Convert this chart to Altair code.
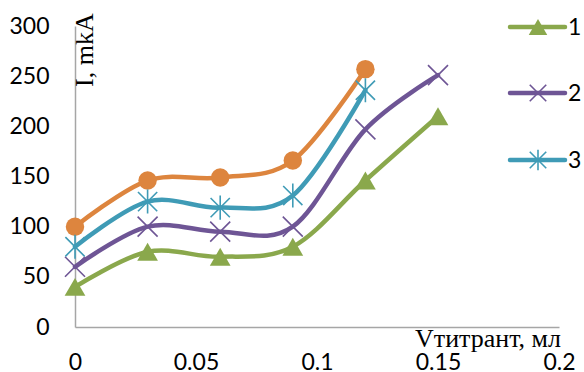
import altair as alt
import pandas as pd

# Titrant volume (ml) and measured current (mkA) for each curve
volume = [0, 0.03, 0.06, 0.09, 0.12, 0.15]
current_1 = [40, 75, 70, 80, 146, 210]
current_2 = [60, 100, 95, 100, 197, 251]
current_3 = [80, 125, 119, 131, 236]
current_4 = [100, 146, 149, 166, 257]

series_names = ["1", "2", "3", "4"]
series_colors = ["#8AA84C", "#6E5595", "#3F9BB6", "#DD853E"]
legend_names = ["1", "2", "3"]

x_ticks = [0, 0.05, 0.1, 0.15, 0.2]
y_ticks = [0, 50, 100, 150, 200, 250, 300]

x_title = "Vтитрант, мл"
y_title = "I, mkA"

X_MARK = "M-1,-1L1,1M-1,1L1,-1"
STAR_MARK = "M-1,-1L1,1M-1,1L1,-1M0,-1.25L0,1.25"
series_shapes = ["triangle-up", X_MARK, STAR_MARK, "circle"]
series_sizes = [430, 340, 340, 330]
series_widths = [4.5, 4.5, 4.5, 4]

rows = []
for name, values in zip(series_names, [current_1, current_2, current_3, current_4]):
    for v, c in zip(volume, values):
        rows.append({"series": name, "volume": v, "current": c})
df = pd.DataFrame(rows)

TICK_FONT = "Lato"
TITLE_FONT = "Liberation Serif"
AXIS_GREY = "#A6A6A6"

x_enc = alt.X(
    "volume:Q",
    scale=alt.Scale(domain=[0, 0.2], nice=False, zero=False),
    axis=alt.Axis(values=x_ticks, format="~g", title=None, grid=False, ticks=False,
                  domainColor=AXIS_GREY, domainWidth=1.5, labelFont=TICK_FONT,
                  labelFontSize=23, labelColor="black", labelPadding=24,
                  labelFlush=False, labelOverlap=False),
)
y_enc = alt.Y(
    "current:Q",
    scale=alt.Scale(domain=[0, 300], nice=False),
    axis=alt.Axis(values=y_ticks, title=None, grid=False, ticks=False,
                  domainColor=AXIS_GREY, domainWidth=1.5, labelFont=TICK_FONT,
                  labelFontSize=23, labelColor="black", labelPadding=26),
)
color_enc = alt.Color("series:N", scale=alt.Scale(domain=series_names, range=series_colors), legend=None)
shape_enc = alt.Shape("series:N", scale=alt.Scale(domain=series_names, range=series_shapes), legend=None)
size_enc = alt.Size("series:N", scale=alt.Scale(domain=series_names, range=series_sizes), legend=None)
width_enc = alt.StrokeWidth("series:N", scale=alt.Scale(domain=series_names, range=series_widths), legend=None)

base = alt.Chart(df)

lines = base.mark_line(interpolate="cardinal", strokeCap="round").encode(
    x=x_enc, y=y_enc, color=color_enc, strokeWidth=width_enc, detail="series:N"
)
filled_pts = base.transform_filter(
    alt.FieldOneOfPredicate(field="series", oneOf=["1", "4"])
).mark_point(filled=True, opacity=1).encode(
    x=x_enc, y=y_enc, color=color_enc, shape=shape_enc, size=size_enc
)
stroked_pts = base.transform_filter(
    alt.FieldOneOfPredicate(field="series", oneOf=["2", "3"])
).mark_point(filled=False, opacity=1, strokeWidth=1.6).encode(
    x=x_enc, y=y_enc, color=color_enc, shape=shape_enc, size=size_enc
)

layers = [lines, filled_pts, stroked_pts]

# axis titles placed inside the chart corners
layers.append(
    alt.Chart(pd.DataFrame({"t": [x_title]})).mark_text(
        font=TITLE_FONT, fontSize=26, align="left", baseline="alphabetic", color="black"
    ).encode(x=alt.value(340), y=alt.value(321), text="t:N")
)
layers.append(
    alt.Chart(pd.DataFrame({"t": [y_title]})).mark_text(
        font=TITLE_FONT, fontSize=26, align="left", baseline="alphabetic", angle=270, color="black"
    ).encode(x=alt.value(18), y=alt.value(61), text="t:N")
)

# hand-built legend for curves 1-3
legend_y = [1, 67, 134]
for i, name in enumerate(legend_names):
    ld = pd.DataFrame({"series": [name]})
    col = series_colors[i]
    layers.append(
        alt.Chart(ld).mark_rule(strokeWidth=4.5, strokeCap="round", color=col).encode(
            x=alt.value(435), x2=alt.value(490), y=alt.value(legend_y[i])
        )
    )
    layers.append(
        alt.Chart(ld).mark_point(
            filled=(i == 0), opacity=1, strokeWidth=1.6, color=col,
            shape=series_shapes[i], size=series_sizes[i] * 0.8
        ).encode(x=alt.value(463), y=alt.value(legend_y[i]))
    )
    layers.append(
        alt.Chart(ld).mark_text(
            font=TICK_FONT, fontSize=23, align="left", baseline="middle", color="black"
        ).encode(x=alt.value(493), y=alt.value(legend_y[i] + 1), text="series:N")
    )

chart = alt.layer(*layers).properties(
    width=484,
    height=301,
    autosize=alt.AutoSizeParams(type="none"),
    padding={"left": 75, "top": 26, "right": 25, "bottom": 45},
    background="white",
).configure_view(stroke=None)

chart.save("out.html", embed_options={"renderer": "svg", "actions": False})
